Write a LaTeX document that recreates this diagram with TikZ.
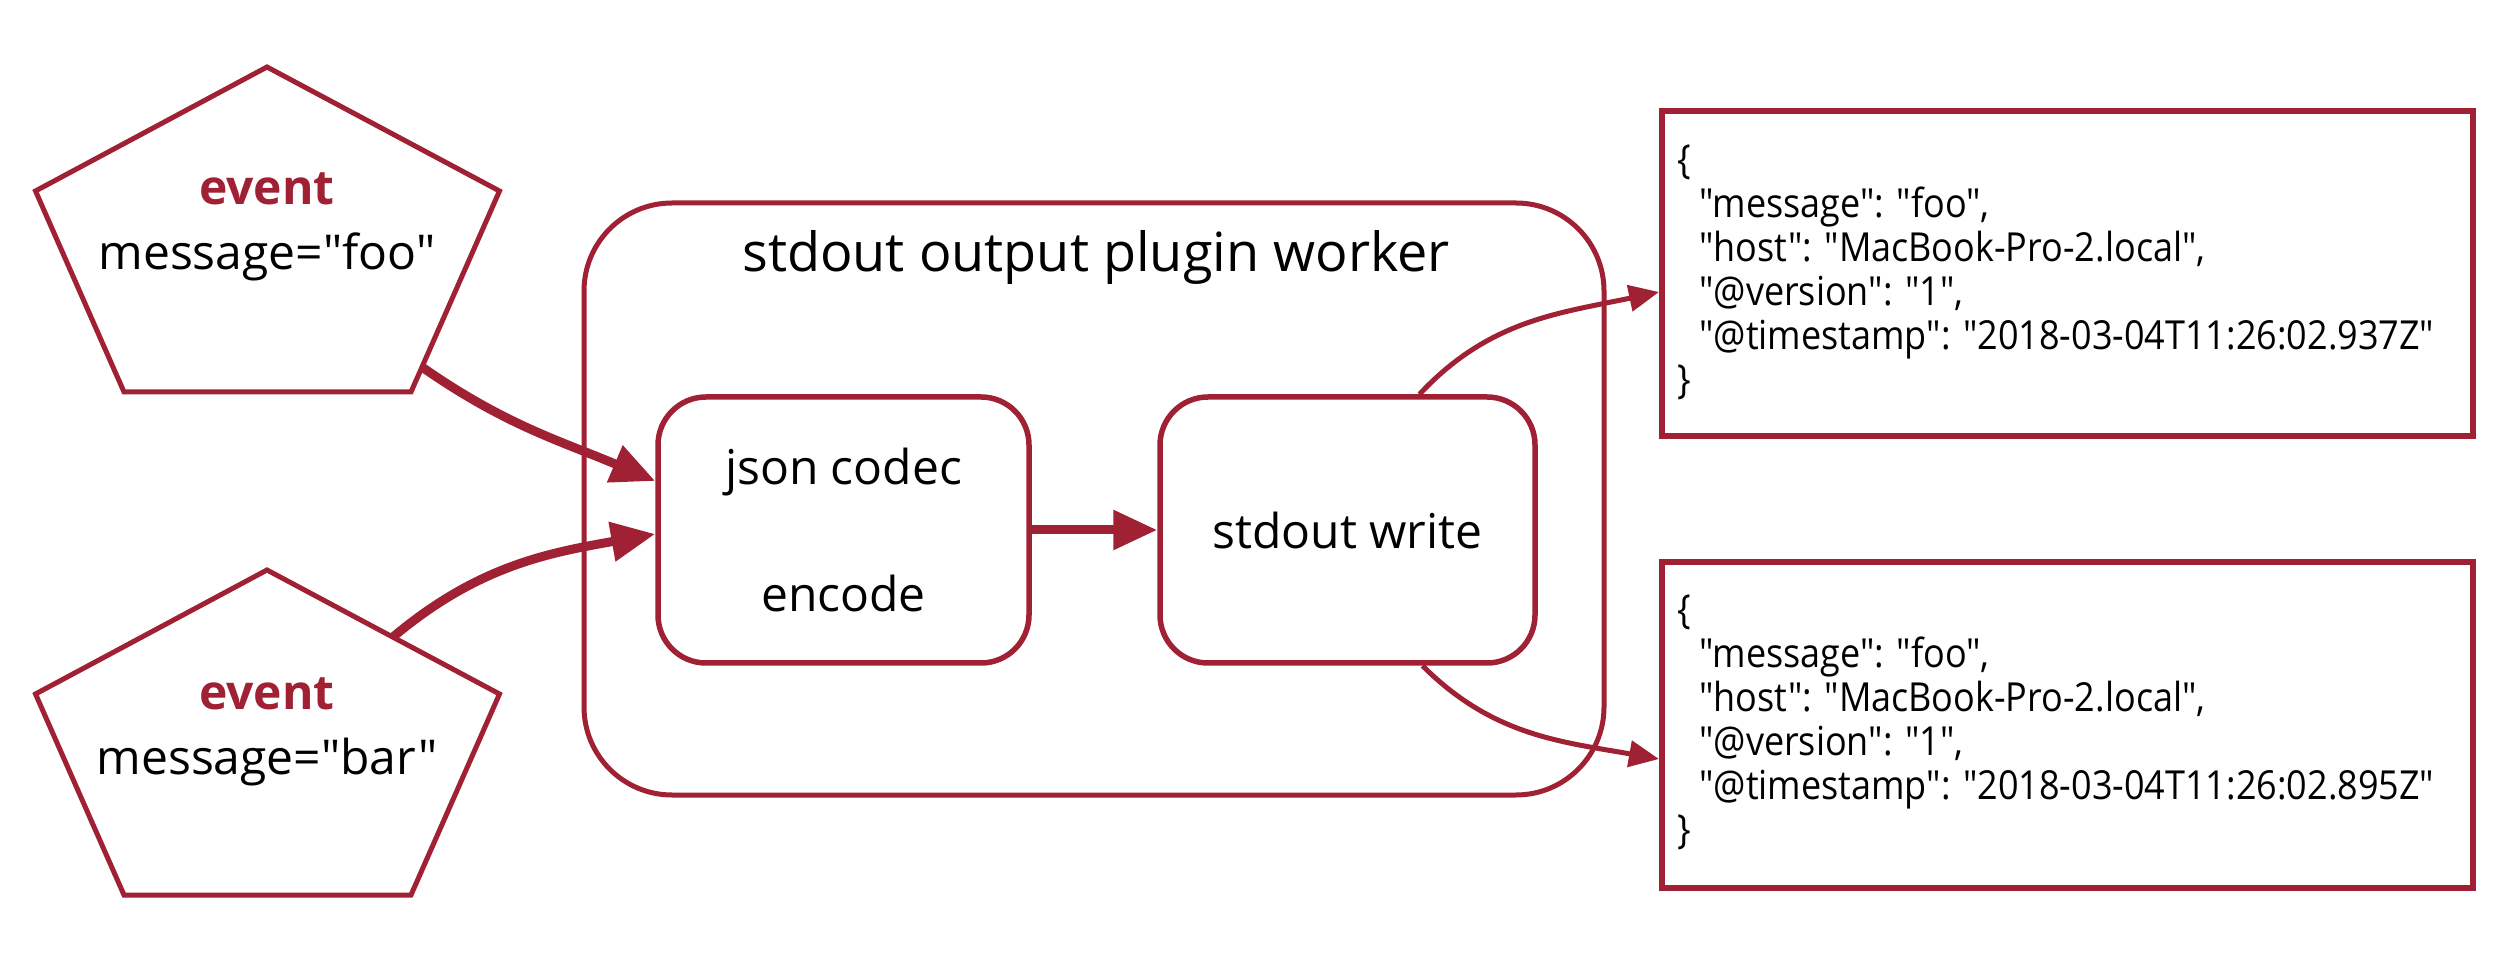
\documentclass[tikz,border=0pt]{standalone}
\usepackage{fontspec}
\setmainfont{Open Sans}[Ligatures=TeXOff]
\newfontfamily\jsonfont[FakeStretch=0.9,Ligatures=TeXOff]{Open Sans}
\usetikzlibrary{arrows.meta,calc}
\definecolor{dred}{RGB}{160,32,52}
\begin{document}
\begin{tikzpicture}[x=1pt,y=1pt,
  outline/.style={draw=dred,line width=5pt,line join=miter},
  rbox/.style={draw=dred,line width=5.5pt,rounded corners=48pt},
  txt/.style={inner sep=0pt,anchor=base,font=\fontsize{48}{58}\selectfont},
  evtxt/.style={txt,font=\fontsize{48}{58}\selectfont\bfseries,text=dred},
  jsonbox/.style={draw=dred,line width=6pt,minimum width=811pt,minimum height=325pt},
  jsontxt/.style={inner sep=0pt,anchor=base west,font=\jsonfont\fontsize{40}{44}\selectfont},
  bigarrow/.style={draw=dred,line width=9pt,-{Triangle[length=44pt,width=38pt]}},
  thinarrow/.style={draw=dred,line width=5pt,-{Triangle[length=30pt,width=26pt]}},
]
\useasboundingbox (0,0) rectangle (2506,978);
\fill[white] (0,0) rectangle (2506,978);

% event pentagons
\draw[outline] (267,911) -- (499.5,787) -- (411,586) -- (124,586) -- (35.5,787) -- cycle;
\draw[outline] (267,408) -- (499.5,284) -- (411,83) -- (124,83) -- (35.5,284) -- cycle;
\coordinate (e1out) at (422,611);
\coordinate (e2out) at (393,341);
\node[evtxt] (ev1) at (267,773) {event};
\node[txt] (msg1) at (267,708) {message="foo"};
\node[evtxt] (ev2) at (267,269) {event};
\node[txt] (msg2) at (267,204) {message="bar"};

% worker
\node[rbox,line width=5pt,rounded corners=88pt,minimum width=1020pt,minimum height=592pt] (worker) at (1094,479) {};
\node[txt,font=\fontsize{54}{64}\selectfont] (title) at (1096,706) {stdout output plugin worker};

\node[rbox,minimum width=371pt,minimum height=266pt] (codec) at (843.5,448) {};
\node[txt] (codecA) at (843.5,493) {json codec};
\node[txt] (codecB) at (843.5,366) {encode};

\node[rbox,minimum width=375pt,minimum height=266pt] (write) at (1347.5,448) {};
\node[txt] (writeT) at (1347.5,429) {stdout write};

% json outputs
\node[jsonbox] (json1) at (2067.5,704) {};
\node[jsonbox] (json2) at (2067.5,253) {};
\node[jsontxt] (j1) at (1677,804) {\begin{tabular}[t]{@{}l@{}}
\{\\
\hspace*{22pt}"message": "foo",\\
\hspace*{22pt}"host": "MacBook-Pro-2.local",\\
\hspace*{22pt}"@version": "1",\\
\hspace*{22pt}"@timestamp": "2018-03-04T11:26:02.937Z"\\
\}
\end{tabular}};
\node[jsontxt] (j2) at (1677,354) {\begin{tabular}[t]{@{}l@{}}
\{\\
\hspace*{22pt}"message": "foo",\\
\hspace*{22pt}"host": "MacBook-Pro-2.local",\\
\hspace*{22pt}"@version": "1",\\
\hspace*{22pt}"@timestamp": "2018-03-04T11:26:02.895Z"\\
\}
\end{tabular}};

% connectors
\draw[bigarrow] (e1out) to[out=-35,in=157] ($(codec.west)+(0,49)$);
\draw[bigarrow] (e2out) to[out=40,in=190] ($(codec.west)+(0,-4)$);
\draw[bigarrow] (codec.east) -- (write.west);
\draw[thinarrow] ($(write.north)+(72,0)$) to[out=47,in=192] ($(json1.west)+(0,-18)$);
\draw[thinarrow] ($(write.south)+(75,0)$) to[out=-45,in=170] ($(json2.west)+(0,-34)$);
\end{tikzpicture}
\end{document}
